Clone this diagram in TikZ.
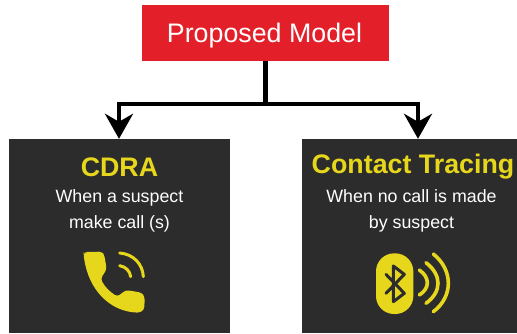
\documentclass[tikz,border=0pt]{standalone}
\usepackage{fontspec}
\setmainfont{Liberation Sans}
\usepackage{xcolor}
\usetikzlibrary{positioning}
\usetikzlibrary{calc}
\usetikzlibrary{arrows.meta}
\definecolor{modelred}{HTML}{E32029}
\definecolor{panelgray}{HTML}{2C2C2C}
\definecolor{iconyellow}{HTML}{E7D71C}
\tikzset{
  modelbox/.style={fill=modelred,minimum width=247pt,minimum height=56pt,inner sep=0pt},
  modeltext/.style={text=white,inner sep=0pt,font=\fontsize{26.8}{30}\selectfont},
  panel/.style={fill=panelgray,minimum height=194pt,inner sep=0pt},
  title/.style={text=iconyellow,inner sep=0pt,font=\fontsize{26.8}{30}\selectfont\bfseries},
  subtitle/.style={text=white,inner sep=0pt,align=center,font=\fontsize{17.8}{26}\selectfont},
  link/.style={line width=4.8pt,black},
  linktip/.style={link,-{Stealth[length=25pt,width=28pt,inset=8pt]}},
  wave/.style={draw=iconyellow,line width=#1,line cap=round}
}
\begin{document}
\begin{tikzpicture}[x=1pt,y=-1pt]
\useasboundingbox (0,0) rectangle (517,333);
\node[modelbox] (model) at (265.5,33) {};
\node[modeltext] (modellabel) at (264.5,35.5) {Proposed Model};
\node[panel,minimum width=221pt] (cdra) at (119.5,236) {};
\node[panel,minimum width=215pt] (tracing) at (409.5,236) {};
\coordinate (aux1) at (265.5,104);
\coordinate (aux2) at (119,104);
\coordinate (aux3) at (418,104);

\draw[link] (model) -- (aux1);
\draw[link] (aux2) -- (aux3);
\draw[linktip] (aux2) ++(0,-2.4) -- (aux2 |- cdra.north);
\draw[linktip] (aux3) ++(0,-2.4) -- (aux3 |- tracing.north);

\node[title] (cdratitle) at (119.5,167) {CDRA};
\node[subtitle] (cdratext) at (119.5,211) {When a suspect\\make call (s)};
\node[title] (tracingtitle) at (413,167) {Contact Tracing};
\node[subtitle] (tracingtext) at (411.5,211) {When no call is made\\by suspect};

% phone
\begin{scope}[shift={(60,240)},scale=1/3]
\fill[iconyellow,rounded corners=3pt] (71,45) -- (73,36) -- (125,35) -- (133,45) -- (140,88) -- (122,116)
  .. controls (135,142) and (150,155) .. (172,170) -- (198,150) -- (245,158) -- (254,170) -- (253,208) -- (240,218)
  .. controls (150,215) and (85,150) .. (71,45) -- cycle;
\draw[wave=3pt] (179,39) .. controls (220,42) and (248,72) .. (250,110);
\draw[wave=3pt] (179,77) .. controls (197,80) and (210,93) .. (212,110);
\end{scope}

% bluetooth
\begin{scope}[shift={(360,240)},scale=1/3]
\fill[iconyellow,rounded corners=18pt] (48,40) rectangle (160,222);
\draw[panelgray,line width=3pt,line cap=round,line join=round] (78,103) -- (133,160) -- (100,185) -- (100,78) -- (133,103) -- (78,160);
\draw[wave=3.6pt] (178,90) .. controls (210,112) and (210,145) .. (178,165);
\draw[wave=3.6pt] (198,68) .. controls (246,105) and (246,155) .. (198,190);
\draw[wave=3.6pt] (220,42) .. controls (280,90) and (280,170) .. (220,215);
\end{scope}
\end{tikzpicture}
\end{document}
